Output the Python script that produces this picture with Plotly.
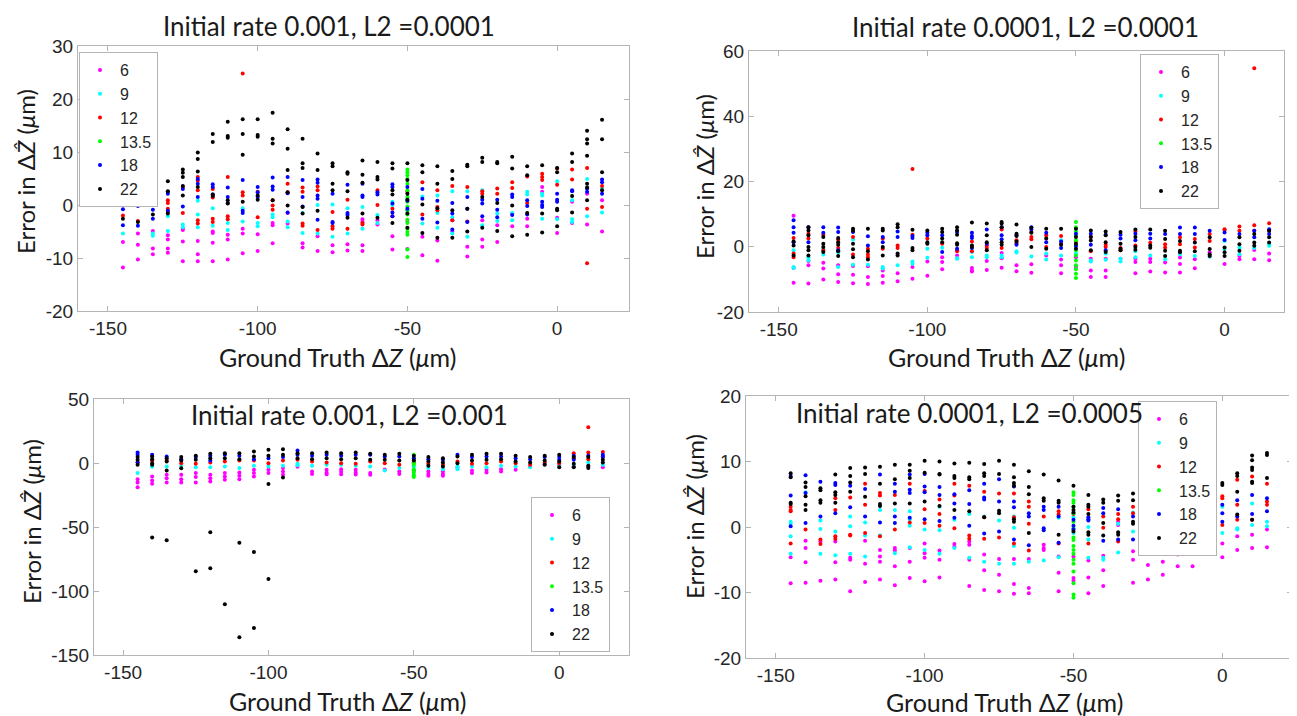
import plotly.graph_objects as go

# ground-truth positions (um), one column of points per position
X_POS = [-145, -140, -135, -130, -125, -120, -115, -110, -105, -100, -95,
         -90, -85, -80, -75, -70, -65, -60, -55, -50, -45, -40, -35, -30,
         -25, -20, -15, -10, -5, 0, 5, 10, 15]
SERIES = ["6", "9", "12", "13.5", "18", "22"]
COLORS = ["#ff00ff", "#00ffff", "#ff0000", "#00ff00", "#0000ff", "#000000"]
GREEN_X = -50  # the 13.5 set only exists at this position

X_TICKS = [-150, -100, -50, 0]
TL_YTICKS = [-20, -10, 0, 10, 20, 30]
TR_YTICKS = [-20, 0, 20, 40, 60]
BL_YTICKS = [-150, -100, -50, 0, 50]
BR_YTICKS = [-20, -10, 0, 10, 20]

# ---- Initial rate 0.001, L2 = 0.0001 ----
TL_6 = [[-7.0, -11.8], [-5.4, -7.5, -10.3], [-4.9, -8.2, -9.3], [-5.7, -6.5, -8.2, -9.0],
        [-4.5, -4.7, -6.9, -10.6], [-6.8, -9.3, -10.6], [-5.0, -5.3, -7.1, -10.6],
        [-5.6, -6.5, -10.3], [-4.5, -5.4, -9.1], [-5.5, -8.7], [-3.4, -3.8, -7.2],
        [-1.5, -3.5], [-7.2, -8.0], [-5.9, -8.7], [-7.6, -8.9], [-7.4, -8.6],
        [-2.7, -3.2, -7.6, -8.7], [-2.9, -3.7], [-5.9, -8.4], [-3.0, -8.3],
        [-6.0, -9.5], [-6.7, -10.5], [-2.9, -5.0], [-7.9, -9.7], [-2.9, -6.5, -7.9],
        [-3.8, -7.0], [-1.6, -4.0], [-2.6, -4.0], [3.4, 2.5], [-2.4, -5.3],
        [0.6, -3.4], [2.1, -3.7], [0.9, -5.0]]
TL_9 = [[2.3, -5.4], [6.2, 5.9], [-5.4, -5.8], [-2.1, -4.9], [-3.7, -4.2],
        [0.8, -1.8, -4.2], [-0.6, -3.9], [-3.4, -4.7], [-0.6, -3.1], [-3.4, -4.0],
        [-1.8, -2.3], [-3.1, -4.2], [-1.5, -5.3], [0.0, -5.4], [0.1, -6.0],
        [-0.6, -5.4], [-0.4, -4.5], [-1.9, -3.4], [0.6, 0.0], [1.2, -1.0],
        [1.6, -3.5], [1.8, -1.5, -4.3], [2.6, -2.3, -5.4], [2.6, -6.0], [2.8, -3.8],
        [-1.6, -3.0], [-1.5, -2.9], [2.5, 2.0], [2.1, 1.8, -2.6], [4.5, -2.7],
        [0.9, -2.7, -3.2], [4.9, -2.1], [3.1, -1.4]]
TL_12 = [[-2.0, 0.5], [1.6, -3.0], [1.3, 0.7], [0.9, 0.4, -0.7, -1.3], [3.4, -1.5],
         [5.3, 4.6, 2.8, -2.9, -3.5], [3.0, 1.4, -2.6, -3.2], [5.3, -2.1, -2.7],
         [24.8, 2.4, 1.8], [2.5, -2.3], [0.9, -0.1, -0.9], [4.0, 2.4],
         [3.3, 2.5, -3.5, -3.9], [3.5, 2.8, -4.7], [-1.3, -4.0, -4.5], [1.0, -4.5],
         [-3.4, -3.7], [2.8, 0.0], [-0.7, -2.1], [2.5], [4.3, -1.8], [2.8, -0.4, -1.0],
         [3.6, -2.9], [3.4, -3.1], [2.6, 2.1], [3.1, 2.1], [4.3, 3.2], [5.4, 0.4],
         [5.9, 5.3, 4.7], [6.9, 3.8], [6.7, 4.8], [7.0, -0.7, -11.0], [3.6, -0.4]]
TL_13_5 = [6.7, 6.2, 5.6, 4.9, 4.0, 2.8, 1.5, 0.6, -0.3, -1.0, -1.8, -2.8, -3.4,
           -4.5, -5.1, -5.6, -8.4, -9.8]
TL_18 = [[1.2, -0.8, -3.8], [0.6, -0.2, -3.9], [0.4, 0.1, -0.9, -2.6], [2.5, 2.1, -1.1],
         [3.0, -0.3], [4.9, 4.0, 1.5], [3.9, 3.4, 2.0], [3.3, 1.5, 0.4], [4.7, -1.1, -1.5],
         [3.4, 2.4, 1.5], [5.2, 3.5, 2.9], [5.3, 2.2, -1.4], [4.7, 1.5, -0.3],
         [4.8, 4.2, 1.8, 1.2, -2.8], [2.1, -3.2, -3.4], [3.8, -1.5, -1.9], [4.0, 1.8, 1.5],
         [2.4, 2.0], [3.9, 3.4, 0.3, -1.4, -2.1], [3.4, 0.8, -0.7], [3.0, 1.2, -2.6],
         [0.8, -3.3], [0.4, -1.6, -4.6], [1.5, -0.7, -3.2], [1.0, 0.3, -2.1],
         [1.0, -0.9, -2.3], [2.0, 1.5, -1.9], [0.9, -0.2, -1.8], [0.6, 0.0, -0.4],
         [2.1, 1.0, 0.6], [2.8, 2.6], [3.1, 2.5], [4.8, 4.3, 2.1]]
TL_22 = [[5.0, 1.0, -2.6], [4.2, 3.4, 1.0, -3.2], [4.7, 2.9, 1.9, -1.8], [4.5, 2.6, -1.6],
         [6.7, 6.1, 5.3, 3.6, 1.8], [9.9, 8.7, 6.3, 3.4], [13.4, 11.9, 2.0, 1.7],
         [15.7, 13.0, 12.7, 0.9, 0.3], [16.2, 13.4, 9.5, 0.6], [16.2, 13.2, 12.9, 1.8, 1.0],
         [17.4, 12.5, 11.6, 0.9], [14.3, 10.6, 6.6, 2.4, -0.1], [12.5, 7.9, 7.0, -0.4, -1.6],
         [9.7, 6.6, -1.1], [7.9, 7.3, 4.0, 2.8], [6.2, 5.9, 2.6, -2.4], [8.4, 5.7, 4.2, -1.6],
         [8.1, 5.3, 4.8, -2.4], [7.9, 6.9, 2.8, 2.0, -3.4], [7.9, 4.7, 2.1, 1.0, -1.6, -4.3],
         [7.5, 6.2, 0.1, -5.3], [7.3, 4.0, -0.6, -6.2], [6.4, 4.9, -1.0, -6.2],
         [7.6, 7.3, -0.7, -5.0], [8.9, 8.1, 1.5, -4.3], [8.1, 7.9, 0.4, -4.9],
         [9.1, 6.9, -0.1, -5.9], [7.3, 5.6, -1.5, -5.6], [7.5, -1.6, -5.2],
         [7.0, 6.2, -0.7, -1.0, -4.0], [9.7, 8.1, 1.7, -1.4],
         [14.0, 12.4, 11.6, 9.3, 4.0, 3.3, 0.9], [16.1, 12.4, 6.2, 2.8]]

# ---- Initial rate 0.0001, L2 = 0.0001 ----
TR_6 = [[9.5, -6.4, -11.0], [-4.4, -5.7, -11.3], [-4.9, -6.7, -10.0], [-5.7, -8.4, -10.8],
        [-5.9, -8.6, -11.2], [-6.0, -9.3, -11.4], [-7.3, -9.0, -11.0], [-8.1, -10.6],
        [-6.2, -9.8], [-4.5, -8.9], [-3.2, -4.7, -6.9], [-2.7], [-6.5, -7.3, -7.6],
        [-4.4, -7.1], [-1.9, -3.5, -6.4], [-5.7, -7.5], [-5.4, -8.0], [-2.7],
        [-3.9, -5.7, -8.1], [-3.2, -6.2], [-3.7, -7.3, -9.3], [-3.7, -7.3, -9.3], [-3.7],
        [-3.7, -4.7, -8.1], [-3.7, -4.7, -7.6], [-4.8, -7.9], [-3.3, -5.3, -7.9],
        [-3.8, -6.6], [-1.7], [-5.3], [-2.8, -3.8], [-1.0, -3.8], [-2.1, -4.1]]
TR_9 = [[-1.1, -6.2, -6.5], [-3.2, -4.2], [-0.6, -2.4], [-1.8, -6.2], [2.2, -5.5], [-5.5],
        [-6.2, -6.7], [-5.7], [-4.5, -5.2], [-0.6, -3.4], [-0.3], [-3.5, -3.7],
        [-1.6, -3.2], [-2.7, -3.2], [-2.7, -3.2], [-1.4, -1.8], [-3.0], [-2.1, -3.9],
        [2.0, -2.7], [-2.1], [-4.2, -4.5], [-2.1, -4.0], [-3.7, -4.5], [-1.4, -3.2],
        [-2.7], [-3.8], [-2.3], [-2.8], [-3.1], [1.8, -0.7], [-0.2, -2.3], [-0.4],
        [1.0, 0.3]]
TR_12 = [[2.7, -2.1, -3.2], [4.0, 2.5], [3.7, -1.1], [2.2, -0.4], [3.0, -2.4],
         [-0.6, -2.4, -3.2], [2.5, -0.6], [0.4, -0.4], [23.8, 3.7], [2.5], [0.9],
         [-1.1, -1.4], [1.6, -1.4], [0.4, -0.4], [5.3, -0.4], [2.0, 1.1], [4.5, 3.0, 2.3],
         [3.5, -0.1], [3.3, 0.9], [1.6], [3.0, -1.4], [0.6, -0.1], [-0.4, -1.1],
         [4.7, 0.4], [1.2], [0.8, -0.2], [2.9, 0.8], [2.4, -0.2], [3.9, 1.8], [5.4, 5.1],
         [6.2, 4.9], [54.7, 6.6, 4.9], [7.2, 4.9]]
TR_13_5 = [7.6, 6.0, 4.7, 3.5, 2.0, 0.4, -1.1, -2.7, -4.2, -5.7, -6.9, -8.3, -9.6]
TR_18 = [[8.1, 6.0, 4.3, 1.4], [6.0, 1.4], [6.0, 4.3], [5.9, 4.5, -1.1], [4.5], [3.2, 0.4],
         [3.0, 1.4], [4.7, 3.0], [3.3, 2.7], [4.3, 3.5], [3.5, -1.6], [4.5, -0.6],
         [4.3, 3.3, 2.7, -0.4], [5.3, 0.9], [6.0, 3.5, 2.3], [3.5, 0.6], [6.0, 5.3],
         [4.3, 1.4], [1.6, -0.4], [4.0, 0.2], [4.0, 0.6], [3.7, -1.1], [3.7, 2.5],
         [4.0, 2.0], [4.0, 2.5], [3.9], [5.9, 3.9], [5.9, 3.9], [4.9], [4.4, 2.1], [3.9],
         [4.9, 2.9], [5.4, 3.9]]
TR_22 = [[1.6, 0.4, -2.7], [6.0, 5.0, 3.5, -0.1, -1.1, -2.7], [3.0, 0.9, -0.1, -1.6],
         [2.7, 1.4, 0.6, -1.4, -2.8], [5.5, 4.9, 0.9, -0.8, -3.2], [5.5, -1.4, -3.9],
         [5.5, 5.0, -0.1, -2.7], [6.9, 6.0, -2.1, -2.7], [5.2, -0.4, -1.1], [5.0, 1.4, 0.9],
         [5.5, 4.5, 2.5, 1.4], [6.0, 5.0, 3.7, 1.1, 0.6], [7.4, 0.4, -0.1],
         [7.1, 3.5, 1.4, -1.1], [7.6, 7.1, 6.0, 1.4, 0.6], [6.8, 4.0, 3.3, 1.6],
         [5.8, 4.3, -0.1], [5.5, 2.5, -0.6], [5.5, 0.6], [5.5, 3.0, 0.9, -0.6],
         [5.0, 3.0, 1.9, -1.1], [4.7, 3.5, 1.4, -1.6], [4.5, 0.9, -0.6, -1.1],
         [5.3, 3.0, -0.1, -0.9], [5.3, 0.4, -0.3], [4.9, 2.4, -1.2, -2.8], [1.8, -1.2, -1.7],
         [1.3, -1.4], [2.9, -0.7, -2.3, -2.8], [-0.2, -1.7, -2.8], [2.9, 0.8, -1.2],
         [3.9, 1.3, 0.3], [4.9, 2.9, 1.3]]

# ---- Initial rate 0.001, L2 = 0.001 ----
BL_6 = [[-12.6, -15.3, -18.9], [-10.5, -13.7, -16.3], [-9.2, -11.9, -15.3],
        [-9.2, -12.6, -15.3], [-7.9, -11.0, -15.3], [-9.2, -11.9, -14.5],
        [-7.9, -10.5, -13.1], [-7.4, -10.0, -12.6], [-5.3, -7.9, -10.5], [-5.3, -7.9],
        [-4.0, -6.6, -9.2], [-3.0], [-6.6, -8.5], [-5.3, -7.4, -8.7], [-4.8, -6.9, -8.7],
        [-5.3, -7.4, -9.0], [-7.9, -9.2], [-5.0], [-6.6, -8.5], [-6.0],
        [-6.6, -8.5, -10.0], [-6.6, -8.5, -10.0], [-3.5], [-5.8, -7.9], [-5.3, -7.4],
        [-4.8, -6.6], [-5.3], [-3.0], [-1.0], [-2.0], [-2.5], [-2.7], [-3.3]]
BL_9 = [[-7.9], [-3.0], [-2.7], [-2.2], [-3.3], [-3.3], [-2.7], [-4.0], [-2.2], [-2.7],
        [-2.2], [-0.6, -1.7], [-2.2], [-1.4], [-1.4], [-2.2], [-2.7], [-5.8], [-4.0],
        [-2.7], [-4.0], [-4.8], [-2.7, -4.8], [-2.7], [-3.3], [-2.2], [-2.7], [-3.3],
        [-0.1], [-1.4], [-1.4], [0.4], [-1.4]]
BL_12 = [[0.5], [2.0], [2.0], [-0.1], [-0.6], [0.4], [1.2], [2.0], [2.0], [-0.1], [2.0],
         [2.5], [1.2], [0.4], [-0.1], [-0.6], [1.2], [-0.1], [-1.4], [0.5], [-0.6], [-1.4],
         [1.2], [-0.6], [-0.1], [1.2], [-0.1], [-1.4], [0.4], [-0.1], [7.7, 3.8],
         [28.0, 8.2, 3.0], [8.5, 5.1]]
BL_13_5 = [6.4, 3.8, 2.5, -0.1, -1.4, -4.8, -5.8, -7.9, -9.5, -11.0]
BL_18 = [[8.2, 6.4, 0.4], [6.4], [5.1], [3.0], [4.6], [5.6, 2.0], [6.4], [5.6], [3.0],
         [3.8], [4.6], [9.8, 6.4], [5.6], [6.4], [5.6], [6.4], [6.4], [5.1], [5.1], [3.8],
         [3.0], [2.5], [6.4], [4.6], [5.1], [5.1], [3.8], [3.0], [4.6], [4.6, 2.5],
         [5.6, 2.5], [5.6], [6.4, 4.6]]
BL_22 = [[4.6, 2.5, -1.4], [5.1, 3.0, -0.1, -1.4, -58.2], [3.8, 1.2, -5.8, -60.3],
         [4.6, 2.0, -4.1], [5.6, 2.5, -84.6], [7.2, 3.8, -54.1, -82.2], [7.7, 3.8, -110.4],
         [7.7, 3.0, -62.4, -136.2], [9.0, 5.1, -69.5, -129.0], [10.3, 5.6, -16.5, -90.6],
         [10.8, 6.4, -11.4], [7.7, 3.8], [7.7, 3.0], [8.2, 3.8], [7.7, 3.0], [8.2, 3.8],
         [7.2, 2.5], [6.4, 2.5], [7.2, 2.0], [5.6, 2.0], [4.6, 1.2, -2.2],
         [3.8, 0.4, -2.7], [5.1, -0.1], [6.4, 2.0], [7.2, 2.5], [7.2, 3.0], [5.6, 1.2],
         [4.6, 0.4], [5.6, 2.0, -1.4], [6.4, 1.2, -3.3], [4.6, -0.6, -3.3],
         [4.6, -2.2, -4.0], [2.5, 0.4]]

# ---- Initial rate 0.0001, L2 = 0.0005 ----
BR_6 = [[-4.6, -8.6], [-2.1, -3.2, -5.4, -8.5], [-2.2, -8.2], [-2.2, -5.4, -8.0],
        [-4.7, -5.0, -9.8], [-2.1, -5.6, -8.4], [-3.5, -4.5, -5.3, -8.0],
        [-3.2, -3.6, -6.0, -8.9], [-3.2, -5.3, -7.8], [-2.5, -4.0, -4.7, -8.3],
        [-3.6, -5.0, -7.7], [-2.6, -3.0], [-2.2, -2.7, -5.0, -9.0], [-4.2, -6.6, -9.6],
        [-4.9, -7.3, -9.8], [-4.9, -8.7, -10.2], [-4.9, -9.3, -10.1], [-2.7, -3.2, -3.5],
        [-4.5, -7.0, -9.8], [-4.5, -7.8, -8.2], [-5.1, -7.7, -10.1], [-4.4, -6.6, -9.0],
        [0.8, 0.3], [-3.7, -5.0, -8.5], [-2.5, -5.8, -8.0], [-5.3, -7.3], [-4.2, -6.0],
        [-3.2, -6.0], [4.4, 3.6], [-2.5, -4.6], [-1.4, -3.5], [-1.2, -3.2], [-0.4, -3.1]]
BR_9 = [[0.8, 0.5, -1.4, -4.1], [5.3], [1.0, -0.3, -4.1], [-0.7, -4.3], [1.6, 0.1, -4.1],
        [0.7, -1.3, -4.5], [2.6, -1.3], [2.6, -4.0], [2.4, 1.2, 0.2, -3.1], [-0.4, -3.5],
        [3.1, -0.5, -4.1], [1.1, -3.2], [2.0, -4.7], [1.6, -5.3], [1.0, -5.6],
        [1.6, -0.1, -2.9, -5.6], [-5.3], [-5.1], [1.4, -4.6], [1.5, -0.9],
        [0.0, -1.9, -4.7], [-4.7, -5.0], [0.5, -3.9], [2.2, -0.7], [1.6, -1.0, -3.9],
        [-3.2], [-3.5], [-2.5], [2.1, 0.1], [3.1, -0.9], [-0.2, -0.4], [3.6, 0.3],
        [0.8, 0.1]]
BR_12 = [[3.1, 2.6, 2.4, -2.5], [-0.4], [-1.9, -2.6], [4.4, 2.6, -1.4, -1.8],
         [4.5, -1.2, -1.3], [6.6, 3.4, -0.9], [5.2, 4.8, -1.4], [4.9, -0.4], [6.6, 0.7],
         [5.5, 2.7, 0.6], [4.2, 2.0, 0.2], [6.6, 4.8, -0.2], [6.3, -1.3, -1.8],
         [5.4, 1.5, -1.8], [5.1, -1.6], [5.1, 1.5, -2.5], [3.9, 3.1, 0.5, -3.6], [1.6],
         [2.4, 1.9, -2.5], [2.0], [2.7, -2.5], [1.6, -0.1], [2.0, 1.2, -2.2], [3.1, 2.1],
         [4.2, 3.1], [2.0, -2.2], [1.5, -1.7], [0.1], [5.2, 2.9], [4.7, 4.4, 0.3],
         [7.2, 3.4, 1.1], [7.7, 1.1], [6.6, 3.9, 3.4]]
BR_13_5 = [5.3, 4.9, 4.1, 3.7, 3.1, 2.1, 0.8, -0.2, -1.6, -2.0, -2.9, -3.5, -4.1, -5.0,
           -5.6, -6.8, -8.6, -10.3, -10.8]
BR_18 = [[7.8, 4.8, 0.1], [7.9, 5.2, 0.6], [6.9, 1.6], [6.7, 6.4, 2.1], [6.3, 3.0],
         [5.8, 1.6], [8.0, 0.7], [6.6, 5.4, 1.6, 0.6], [8.0, 5.7, 5.2, 1.4],
         [8.1, 6.2, 5.3, 1.2], [6.1, 4.9, 0.9], [5.0, 3.6, 1.4], [5.6, 3.5, 0.2],
         [6.6, 4.5, 4.2, -1.0], [7.3, 3.9, -0.7], [6.2, 3.9, 3.0, -1.9], [2.1, 1.6, -2.8],
         [3.1, 2.6, -0.2, -0.5], [3.1, 1.6, -2.4], [1.1, 0.2, -0.4], [1.5, 1.2, 1.0],
         [2.9, 2.1, -2.1], [2.7, -1.9], [1.6, -1.9], [2.6, 1.6, -1.7], [3.0, 0.1],
         [2.5, -0.2, -0.9], [2.8, -0.4], [1.6, 0.8], [3.4, 2.1, 0.8], [4.1, 1.6],
         [4.9, 2.0], [4.4, 2.4]]
BR_22 = [[8.2, 7.6, 3.7, 3.5], [6.8, 6.1, 4.7, 3.4, 2.6], [5.9, 5.6, 4.1, 3.7],
         [8.0, 5.3, 4.9, 3.7], [9.0, 7.8, 6.8, 5.4], [9.1, 8.1, 4.6], [9.2, 6.6, 3.5, 3.2],
         [9.5, 7.3, 3.6], [9.5, 8.6, 7.5, 3.6], [10.1, 8.3, 3.9], [10.0, 8.1, 8.0, 3.2],
         [9.7, 7.8, 7.5, 2.6], [9.8, 7.6, 7.3, 2.4], [9.6, 8.2, 7.8, 1.5],
         [10.1, 8.1, 2.5, 2.1], [9.5, 7.6, 6.7, 6.3, 1.2, 0.8], [8.5, 6.1, 5.0, -0.9],
         [8.0, 4.4, 4.0], [7.1, 4.0, 3.7, -1.2], [6.3, 3.1, 2.6, 2.2, -0.7],
         [4.9, 3.4, 3.1, 2.0, -0.8, -1.2], [4.2, 3.7, 0.6, -1.3], [4.8, 4.0, -0.8, -1.2],
         [5.1, 4.1, 0.8, 0.5], [4.2, 3.6, 2.1, -0.7], [4.0, 2.5, -0.9, -2.5],
         [4.5, -1.7, -2.5], [3.5, -0.9, -1.7], [6.7, 4.9, 3.1, -1.2], [6.7, 6.4],
         [8.2, 7.8, 5.4, 1.9], [10.9, 10.2, 9.1, 8.7, 6.9, 6.7, 1.1], [11.3, 11.0, 7.5]]

TITLES = ["Initial rate 0.001, L2 =0.0001", "Initial rate 0.0001, L2 =0.0001",
          "Initial rate 0.001, L2 =0.001", "Initial rate 0.0001, L2 =0.0005"]
X_LABEL = "Ground Truth Δ<i>Z</i> (<i>μ</i>m)"
Y_LABEL = "Error in Δ<i>Ẑ</i> (<i>μ</i>m)"

# the page body keeps its default 8px margin, so the figure is 8px smaller
# than the window and every window position below is shifted by that offset
PAGE_W, PAGE_H, BODY = 1297, 716, 8
W, H = PAGE_W - BODY, PAGE_H - BODY
TEXT_FONT = "Lato, 'Open Sans', sans-serif"
TICK_FONT = "'Liberation Sans', Arial, sans-serif"


def px(x):
    return (x - BODY) / W


def py(y):
    return 1 - (y - BODY) / H


def flatten(cols):
    xs, ys = [], []
    for x, vals in zip(X_POS, cols):
        for v in vals:
            xs.append(x)
            ys.append(v)
    return xs, ys


# box in window pixels (left, top, right, bottom), x range, y range,
# title centre, legend anchor point, axis-title positions
PANELS = [
    dict(data=(TL_6, TL_9, TL_12, TL_13_5, TL_18, TL_22), box=(78, 46, 629, 311),
         xr=[-160, 24], yr=[-20, 30], yticks=TL_YTICKS, title=(329, 26),
         leg=(79, 52, "left", "top"), xlab=(338, 357), ylab=(26, 172)),
    dict(data=(TR_6, TR_9, TR_12, TR_13_5, TR_18, TR_22), box=(749, 51, 1284, 312),
         xr=[-160, 20], yr=[-20, 60], yticks=TR_YTICKS, title=(1025, 27),
         leg=(1140, 54, "left", "top"), xlab=(1006, 357), ylab=(704, 177)),
    dict(data=(BL_6, BL_9, BL_12, BL_13_5, BL_18, BL_22), box=(94, 399, 629, 655),
         xr=[-160, 24], yr=[-150, 50], yticks=BL_YTICKS, title=(349, 415),
         leg=(610, 652, "right", "bottom"), xlab=(347, 701), ylab=(31, 522)),
    dict(data=(BR_6, BR_9, BR_12, BR_13_5, BR_18, BR_22), box=(746, 396, 1292, 658),
         xr=[-160, 23.4], yr=[-20, 20], yticks=BR_YTICKS, title=(970, 413),
         leg=(1138, 401, "left", "top"), xlab=(1005, 702), ylab=(694, 517)),
]

fig = go.Figure()
annotations = []
layout = {}

for i, p in enumerate(PANELS, start=1):
    sfx = "" if i == 1 else str(i)
    leg = "legend" if i == 1 else f"legend{i}"
    for name, color, cols in zip(SERIES, COLORS, p["data"]):
        if name == "13.5":
            xs, ys = [GREEN_X] * len(cols), cols
        else:
            xs, ys = flatten(cols)
        fig.add_trace(go.Scatter(
            x=xs, y=ys, mode="markers", name=name, legend=leg,
            marker=dict(color=color, size=4, line_width=0),
            xaxis=f"x{sfx}", yaxis=f"y{sfx}", hoverinfo="x+y",
        ))

    l, t, r, b = p["box"]
    axis_common = dict(
        showgrid=False, zeroline=False, showline=True, linecolor="#b4b4b4",
        linewidth=1, mirror="ticks", ticks="inside", ticklen=5,
        tickcolor="#b4b4b4", tickfont=dict(family=TICK_FONT, size=19, color="#262626"),
    )
    # plain hyphen minus signs, as in the original figure
    layout[f"xaxis{sfx}"] = dict(
        axis_common, domain=[px(l), px(r)], range=p["xr"], anchor=f"y{sfx}",
        tickvals=X_TICKS, ticktext=[str(v) for v in X_TICKS],
    )
    layout[f"yaxis{sfx}"] = dict(
        axis_common, domain=[py(b), py(t)], range=p["yr"], anchor=f"x{sfx}",
        tickvals=p["yticks"], ticktext=[str(v) for v in p["yticks"]],
    )
    lx, ly, xa, ya = p["leg"]
    layout[leg] = dict(
        x=px(lx), y=py(ly), xanchor=xa, yanchor=ya,
        bgcolor="white", bordercolor="#b4b4b4", borderwidth=1,
        font=dict(family=TICK_FONT, size=16, color="#262626"),
        itemwidth=30, tracegroupgap=0, itemclick=False,
    )

    annotations.append(dict(
        text=TITLES[i - 1], x=px(p["title"][0]), y=py(p["title"][1]),
        xref="paper", yref="paper", showarrow=False, xanchor="center", yanchor="middle",
        font=dict(family=TEXT_FONT, size=26, color="#1a1a1a"),
    ))
    annotations.append(dict(
        text=X_LABEL, x=px(p["xlab"][0]), y=py(p["xlab"][1]),
        xref="paper", yref="paper", showarrow=False, xanchor="center", yanchor="middle",
        font=dict(family=TEXT_FONT, size=25, color="#1a1a1a"),
    ))
    annotations.append(dict(
        text=Y_LABEL, x=px(p["ylab"][0]), y=py(p["ylab"][1]), textangle=-90,
        xref="paper", yref="paper", showarrow=False, xanchor="center", yanchor="middle",
        font=dict(family=TEXT_FONT, size=24, color="#1a1a1a"),
    ))

fig.update_layout(
    width=W, height=H, margin=dict(l=0, r=0, t=0, b=0, autoexpand=False),
    paper_bgcolor="white", plot_bgcolor="white",
    annotations=annotations, **layout,
)

fig.write_html("out.html")
